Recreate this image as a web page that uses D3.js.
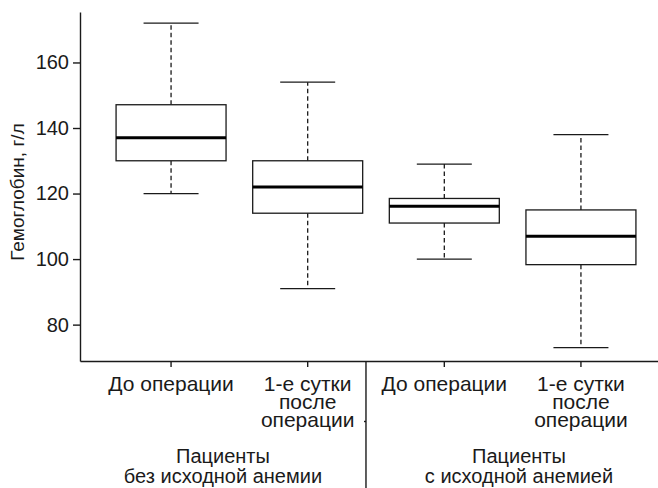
<!DOCTYPE html>
<html>
<head>
<meta charset="utf-8">
<script src="https://cdn.jsdelivr.net/npm/d3@7"></script>
<style>
  body { margin: 0; background: #fff; }
  text { font-family: "Liberation Sans", Arial, sans-serif; fill: #1a1a1a; }
</style>
</head>
<body>
<svg width="658" height="488"></svg>
<script>
// data
var categories = ["g1_before", "g1_after", "g2_before", "g2_after"];
var tickLabels = [["До операции"], ["1-е сутки", "после", "операции"],
                  ["До операции"], ["1-е сутки", "после", "операции"]];
var groupLabels = [["Пациенты", "без исходной анемии"], ["Пациенты", "с исходной анемией"]];
var whiskerLow  = [120, 91, 100, 73];
var q1          = [130, 114, 111, 98.3];
var median      = [137, 122, 116.1, 107];
var q3          = [147.1, 130, 118.5, 115];
var whiskerHigh = [172, 154, 129, 138];
var yTicks = [80, 100, 120, 140, 160];

var svg = d3.select("svg");
var ink = "#1a1a1a";

var x = d3.scaleBand()
    .domain(categories)
    .range([80, 672])
    .paddingInner(0.195)
    .paddingOuter(0.264);

var y = d3.scaleLinear()
    .domain([68.9, 175.4])
    .range([361, 12]);

var bw = x.bandwidth();
var cx = function(i){ return x(categories[i]) + bw / 2; };

// boxes
categories.forEach(function(c, i){
    var g = svg.append("g");
    // whiskers (dashed)
    g.append("line")
        .attr("x1", cx(i)).attr("x2", cx(i))
        .attr("y1", y(q3[i])).attr("y2", y(whiskerHigh[i]))
        .attr("stroke", ink).attr("stroke-width", 1.3)
        .attr("stroke-dasharray", "4.5,3");
    g.append("line")
        .attr("x1", cx(i)).attr("x2", cx(i))
        .attr("y1", y(q1[i])).attr("y2", y(whiskerLow[i]))
        .attr("stroke", ink).attr("stroke-width", 1.3)
        .attr("stroke-dasharray", "4.5,3");
    // caps
    [whiskerLow[i], whiskerHigh[i]].forEach(function(v){
        g.append("line")
            .attr("x1", cx(i) - bw / 4).attr("x2", cx(i) + bw / 4)
            .attr("y1", y(v)).attr("y2", y(v))
            .attr("stroke", ink).attr("stroke-width", 1.3);
    });
    g.append("rect")
        .attr("x", x(c)).attr("width", bw)
        .attr("y", y(q3[i])).attr("height", y(q1[i]) - y(q3[i]))
        .attr("fill", "#fff").attr("stroke", ink).attr("stroke-width", 1.3);
    g.append("line")
        .attr("x1", x(c)).attr("x2", x(c) + bw)
        .attr("y1", y(median[i])).attr("y2", y(median[i]))
        .attr("stroke", "#000").attr("stroke-width", 3);
});

// y axis
var yAxis = svg.append("g")
    .attr("transform", "translate(80,0)")
    .call(d3.axisLeft(y).tickValues(yTicks).tickSize(7).tickPadding(4).tickSizeOuter(0))
    .attr("font-size", 20)
    .attr("font-family", "Liberation Sans, Arial, sans-serif");
yAxis.selectAll("path, line").attr("stroke", ink).attr("stroke-width", 1.4);
yAxis.selectAll("text").attr("fill", ink).attr("font-size", 20);

// x axis
var xAxis = svg.append("g")
    .attr("transform", "translate(0,361)")
    .call(d3.axisBottom(x).tickSize(6).tickSizeOuter(0).tickFormat(""));
xAxis.selectAll("path, line").attr("stroke", ink).attr("stroke-width", 1.4);

// multi-line tick labels
categories.forEach(function(c, i){
    var t = svg.append("text")
        .attr("text-anchor", "middle")
        .attr("font-size", 21);
    tickLabels[i].forEach(function(s, k){
        t.append("tspan").attr("x", cx(i)).attr("y", 391 + k * 18).text(s);
    });
});

// group separator
var sepX = x(categories[1]) + bw + 3.3;
svg.append("line")
    .attr("x1", sepX).attr("x2", sepX)
    .attr("y1", 361).attr("y2", 488)
    .attr("stroke", ink).attr("stroke-width", 1.4);
svg.append("line")
    .attr("x1", sepX - 2).attr("x2", sepX)
    .attr("y1", 421.5).attr("y2", 421.5)
    .attr("stroke", ink).attr("stroke-width", 1.4);

// group labels
var groupCenters = [(x.range()[0] + sepX) / 2, (sepX + x.range()[1]) / 2];
groupLabels.forEach(function(lines, j){
    var t = svg.append("text")
        .attr("text-anchor", "middle")
        .attr("font-size", 20);
    lines.forEach(function(s, k){
        t.append("tspan").attr("x", groupCenters[j]).attr("y", 462.5 + k * 20.5).text(s);
    });
});

// y axis title
svg.append("text")
    .attr("transform", "translate(24,192) rotate(-90)")
    .attr("text-anchor", "middle")
    .attr("font-size", 19)
    .text("Гемоглобин, г/л");
</script>
</body>
</html>
